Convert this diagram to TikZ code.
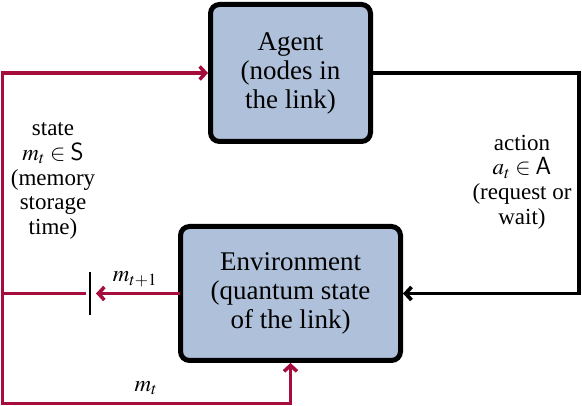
\documentclass[tikz,border=0pt]{standalone}
\usepackage{mathptmx}
\usepackage{fontspec}
\setmainfont{Liberation Serif}
\setsansfont{Liberation Sans}
\usetikzlibrary{arrows.meta}
\definecolor{boxfill}{HTML}{AFC0DA}
\definecolor{redline}{HTML}{A50D3C}
\begin{document}
\begin{tikzpicture}[x=1pt,y=-1pt,
  box/.style={draw=black,line width=5pt,fill=boxfill,rounded corners=9pt,align=center,
    font=\fontsize{27}{29}\selectfont,inner sep=0pt},
  lbl/.style={align=center,font=\fontsize{23}{24.6}\selectfont,inner sep=0pt},
  redc/.style={draw=redline,line width=3.5pt,line cap=rect},
  blkc/.style={draw=black,line width=3.7pt},
  tip/.style={-{Straight Barb[length=6pt,width=13pt]}}
]
\useasboundingbox (0,0) rectangle (582,406);

\node[box,minimum width=160pt,minimum height=137pt] (agent) at (290.5,73)
  {Agent\\(nodes in\\the link)};
\node[box,minimum width=220pt,minimum height=134pt] (env) at (290.5,293.5)
  {Environment\\(quantum state\\of the link)};

\coordinate (lt) at (2.6,73);
\coordinate (lm) at (2.6,293.5);
\coordinate (lb) at (2.6,403.6);
\coordinate (rt) at (579.3,73);
\coordinate (barT) at (90,272);
\coordinate (barB) at (90,315);
\coordinate (gapR) at (96,293.5);
\coordinate (gapL) at (84,293.5);

\draw[redc,tip] (env.west) -- (gapR);
\draw[line width=2pt] (barT) -- (barB);
\draw[redc] (gapL) -- (lm);
\draw[redc,tip] (lb) -- (lt) -- (agent.west);
\draw[redc,tip] (lb) -| (env.south);
\draw[blkc,tip] (agent.east) -- (rt) |- (env.east);

\node[lbl] (slabel) at (53,181) {state\\$m_t\in\mathsf{S}$\\(memory\\storage\\time)};
\node[lbl] (alabel) at (522,182) {action\\$a_t\in\mathsf{A}$\\(request or\\wait)};
\node[lbl] (m1) at (135,279) {$m_{t+1}$};
\node[lbl] (m0) at (146,388) {$m_t$};
\end{tikzpicture}
\end{document}
